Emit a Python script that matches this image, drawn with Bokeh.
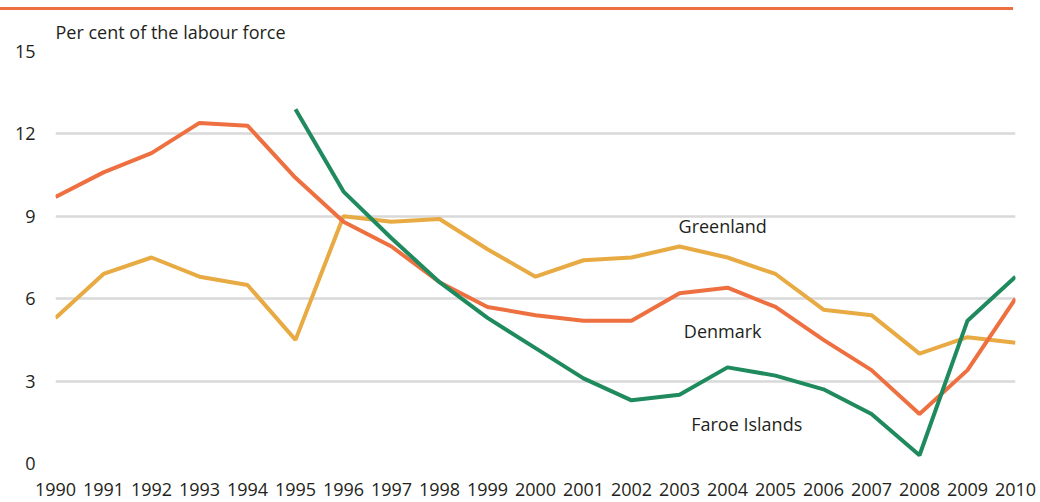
from bokeh.plotting import figure
from bokeh.models import Label, FixedTicker, Range1d, Div
from bokeh.layouts import column
from bokeh.embed import file_html
from bokeh.resources import INLINE

years = list(range(1990, 2011))
denmark = [9.7, 10.6, 11.3, 12.4, 12.3, 10.4, 8.8, 7.9, 6.6, 5.7, 5.4, 5.2, 5.2, 6.2, 6.4, 5.7, 4.5, 3.4, 1.8, 3.4, 6.0]
greenland = [5.3, 6.9, 7.5, 6.8, 6.5, 4.5, 9.0, 8.8, 8.9, 7.8, 6.8, 7.4, 7.5, 7.9, 7.5, 6.9, 5.6, 5.4, 4.0, 4.6, 4.4]
faroe_years = list(range(1995, 2011))
faroe = [12.9, 9.9, 8.2, 6.6, 5.3, 4.2, 3.1, 2.3, 2.5, 3.5, 3.2, 2.7, 1.8, 0.3, 5.2, 6.8]
y_ticks = [0, 3, 6, 9, 12, 15]
y_title = "Per cent of the labour force"

C_DK = "#EE7040"
C_GL = "#E8AA42"
C_FO = "#1F8A5E"
TXT = "#231F20"
FONT = "Open Sans"

p = figure(width=1040, height=492, output_backend="svg", toolbar_location=None,
           x_range=Range1d(1990, 2010), y_range=Range1d(0, 15),
           min_border_left=55, min_border_right=25, min_border_top=40, min_border_bottom=39,
           title=y_title, margin=(0, 0, 0, 0))
p.outline_line_color = None
p.background_fill_color = "white"
p.border_fill_color = "white"

p.title.text_font = FONT
p.title.text_font_size = "18px"
p.title.text_font_style = "normal"
p.title.text_color = TXT
p.title.align = "left"
p.title.standoff = 15

p.xgrid.grid_line_color = None
p.ygrid.grid_line_color = "#D9D9D9"
p.ygrid.grid_line_width = 2.5
p.ygrid.ticker = FixedTicker(ticks=y_ticks)

p.yaxis.ticker = FixedTicker(ticks=y_ticks)
p.xaxis.ticker = FixedTicker(ticks=years)
for ax in (p.xaxis, p.yaxis):
    ax.axis_line_color = None
    ax.major_tick_line_color = None
    ax.minor_tick_line_color = None
    ax.major_tick_out = 0
    ax.major_tick_in = 0
    ax.minor_tick_out = 0
    ax.minor_tick_in = 0
    ax.major_label_text_font = FONT
    ax.major_label_text_font_size = "18px"
    ax.major_label_text_color = TXT
p.yaxis.major_label_standoff = 20
p.xaxis.major_label_standoff = 19

p.line(years, greenland, line_color=C_GL, line_width=4)
p.line(years, denmark, line_color=C_DK, line_width=4)
p.line(faroe_years, faroe, line_color=C_FO, line_width=4)

for txt, x, y in [("Greenland", 2003.9, 8.64), ("Denmark", 2003.9, 4.83), ("Faroe Islands", 2004.4, 1.45)]:
    p.add_layout(Label(x=x, y=y, text=txt, text_font=FONT, text_font_size="18px",
                       text_color=TXT, text_align="center", text_baseline="middle"))

rule = Div(text="", width=1013, height=3, margin=(7, 0, 0, 0),
           styles={"background-color": C_DK})

layout = column(rule, p, spacing=0, margin=(0, 0, 0, 0))
open("out.html", "w").write(file_html(layout, INLINE))
